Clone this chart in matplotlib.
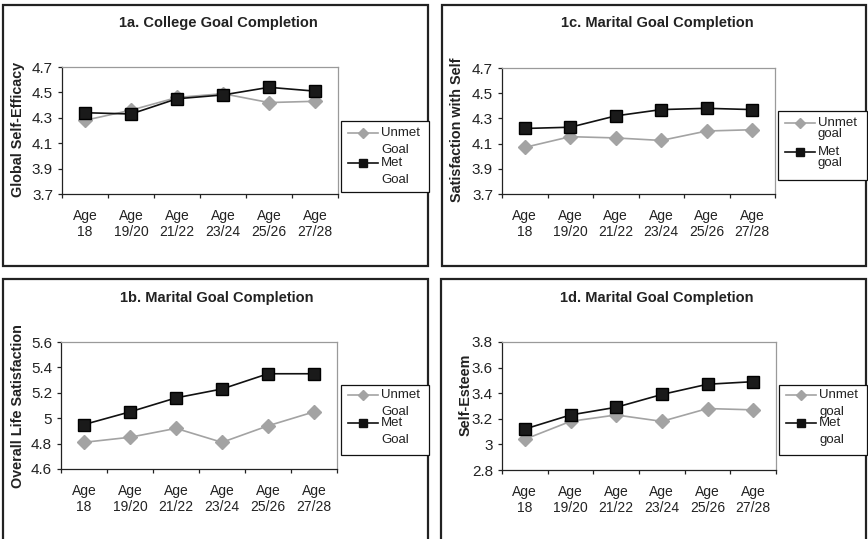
import matplotlib
matplotlib.use("Agg")
import matplotlib.pyplot as plt
from matplotlib.lines import Line2D
from matplotlib.patches import Rectangle

plt.rcParams['font.family'] = ['Liberation Sans', 'DejaVu Sans']

ages = ["Age\n18", "Age\n19/20", "Age\n21/22", "Age\n23/24", "Age\n25/26", "Age\n27/28"]

# 1a. College goal completion - global self-efficacy
efficacy_unmet = [4.28, 4.36, 4.46, 4.49, 4.42, 4.43]
efficacy_met = [4.34, 4.33, 4.45, 4.48, 4.54, 4.51]

# 1b. Marital goal completion - overall life satisfaction
life_unmet = [4.81, 4.85, 4.92, 4.81, 4.94, 5.05]
life_met = [4.95, 5.05, 5.16, 5.23, 5.35, 5.35]

# 1c. Marital goal completion - satisfaction with self
selfsat_unmet = [4.07, 4.155, 4.145, 4.125, 4.20, 4.21]
selfsat_met = [4.22, 4.23, 4.32, 4.37, 4.38, 4.37]

# 1d. Marital goal completion - self-esteem
esteem_unmet = [3.04, 3.18, 3.23, 3.18, 3.28, 3.27]
esteem_met = [3.12, 3.23, 3.29, 3.39, 3.47, 3.49]

W, H = 868, 539
fig = plt.figure(figsize=(W / 100, H / 100), dpi=100)
fig.patch.set_facecolor("white")

GRAY = "#a3a3a3"
INK = "#222222"


def fx(px):
    return px / W


def fy(py):
    return 1 - py / H


def axes_px(l, t, r, b):
    return fig.add_axes([fx(l), fy(b), fx(r) - fx(l), fy(t) - fy(b)])


def panel(box, plot, title, title_xy, ylabel, ylabel_xy, unmet, met, yticks,
          ylabels, legend_box, legend_rows, legend_labels):
    # outer frame
    bl, bt, br, bb = box
    fig.patches.append(Rectangle((fx(bl), fy(bb)), fx(br) - fx(bl), fy(bt) - fy(bb),
                                 transform=fig.transFigure, fill=False,
                                 edgecolor=INK, linewidth=1.6, zorder=0))
    fig.text(fx(title_xy[0]), fy(title_xy[1]), title, ha="center", va="center",
             fontsize=10.5, fontweight="bold", color=INK)
    fig.text(fx(ylabel_xy[0]), fy(ylabel_xy[1]), ylabel, ha="center", va="center",
             rotation=90, fontsize=10.4, fontweight="bold", color=INK)

    ax = axes_px(*plot)
    x = range(len(ages))
    ax.plot(x, unmet, color=GRAY, linewidth=1.2, marker="D", markersize=7,
            markerfacecolor=GRAY, markeredgecolor=GRAY, zorder=3)
    ax.plot(x, met, color="#111111", linewidth=1.2, marker="s", markersize=8,
            markerfacecolor="#1a1a1a", markeredgecolor="#000000", zorder=4)
    ax.set_xlim(-0.5, len(ages) - 0.5)
    ax.set_ylim(yticks[0], yticks[-1])
    ax.set_yticks(yticks)
    ax.set_yticklabels(ylabels)
    ax.set_xticks([i - 0.5 for i in range(len(ages) + 1)])
    ax.set_xticklabels([])
    ax.set_xticks(list(x), minor=True)
    ax.set_xticklabels(ages, minor=True)
    ax.tick_params(axis="x", which="major", direction="out", length=3, width=0.9,
                   color=INK)
    ax.tick_params(axis="x", which="minor", length=0, pad=10.5, labelsize=10,
                   labelcolor=INK)
    ax.tick_params(axis="y", direction="out", length=3, width=0.9, color=INK,
                   labelsize=11, labelcolor=INK, pad=3.5)
    for lbl in ax.get_xticklabels(minor=True):
        lbl.set_linespacing(1.2)
    for s in ("top", "right"):
        ax.spines[s].set_color("#9a9a9a")
        ax.spines[s].set_linewidth(0.9)
    for s in ("left", "bottom"):
        ax.spines[s].set_color(INK)
        ax.spines[s].set_linewidth(0.9)

    # legend
    ll, lt, lr, lb = legend_box
    fig.patches.append(Rectangle((fx(ll), fy(lb)), fx(lr) - fx(ll), fy(lt) - fy(lb),
                                 transform=fig.transFigure, fill=True, facecolor="white",
                                 edgecolor="#111111", linewidth=0.9, zorder=5))
    lx0, lx1, tx = ll + 7, ll + 37, ll + 40
    (u1, u2, m1, m2) = legend_rows
    fig.lines.append(Line2D([fx(lx0), fx(lx1)], [fy(u1), fy(u1)], transform=fig.transFigure,
                            color=GRAY, linewidth=1.2, zorder=6))
    fig.lines.append(Line2D([fx((lx0 + lx1) / 2)], [fy(u1)], transform=fig.transFigure,
                            color=GRAY, marker="D", markersize=5, linestyle="none", zorder=6))
    fig.lines.append(Line2D([fx(lx0), fx(lx1)], [fy(m1), fy(m1)], transform=fig.transFigure,
                            color="#111111", linewidth=1.2, zorder=6))
    fig.lines.append(Line2D([fx((lx0 + lx1) / 2)], [fy(m1)], transform=fig.transFigure,
                            color="#111111", marker="s", markersize=6, linestyle="none",
                            zorder=6))
    for yy, txt in zip((u1, u2, m1, m2), legend_labels):
        fig.text(fx(tx), fy(yy), txt, ha="left", va="center", fontsize=9.5,
                 color=INK, zorder=7)
    return ax


panel(box=(3, 5, 428, 266), plot=(62, 67, 338, 194),
      title="1a. College Goal Completion", title_xy=(218, 23),
      ylabel="Global Self-Efficacy", ylabel_xy=(18, 129),
      unmet=efficacy_unmet, met=efficacy_met,
      yticks=[3.7, 3.9, 4.1, 4.3, 4.5, 4.7],
      ylabels=["3.7", "3.9", "4.1", "4.3", "4.5", "4.7"],
      legend_box=(341, 121, 429, 192), legend_rows=(133, 150, 163, 180),
      legend_labels=["Unmet", "Goal", "Met", "Goal"])

panel(box=(442, 5, 866, 266), plot=(502, 68, 775, 194),
      title="1c. Marital Goal Completion", title_xy=(657, 23),
      ylabel="Satisfaction with Self", ylabel_xy=(457, 130),
      unmet=selfsat_unmet, met=selfsat_met,
      yticks=[3.7, 3.9, 4.1, 4.3, 4.5, 4.7],
      ylabels=["3.7", "3.9", "4.1", "4.3", "4.5", "4.7"],
      legend_box=(778, 111, 867, 180), legend_rows=(123, 134, 152, 163),
      legend_labels=["Unmet", "goal", "Met", "goal"])

panel(box=(3, 279, 428, 545), plot=(61, 342, 337, 469),
      title="1b. Marital Goal Completion", title_xy=(217, 298),
      ylabel="Overall Life Satisfaction", ylabel_xy=(18, 406),
      unmet=life_unmet, met=life_met,
      yticks=[4.6, 4.8, 5.0, 5.2, 5.4, 5.6],
      ylabels=["4.6", "4.8", "5", "5.2", "5.4", "5.6"],
      legend_box=(341, 385, 429, 455), legend_rows=(395, 412, 423, 440),
      legend_labels=["Unmet", "Goal", "Met", "Goal"])

panel(box=(441, 279, 866, 545), plot=(502, 342, 776, 470),
      title="1d. Marital Goal Completion", title_xy=(657, 298),
      ylabel="Self-Esteem", ylabel_xy=(466, 395),
      unmet=esteem_unmet, met=esteem_met,
      yticks=[2.8, 3.0, 3.2, 3.4, 3.6, 3.8],
      ylabels=["2.8", "3", "3.2", "3.4", "3.6", "3.8"],
      legend_box=(779, 385, 867, 455), legend_rows=(395, 412, 423, 440),
      legend_labels=["Unmet", "goal", "Met", "goal"])

fig.savefig("out.png", dpi=100, facecolor="white")
